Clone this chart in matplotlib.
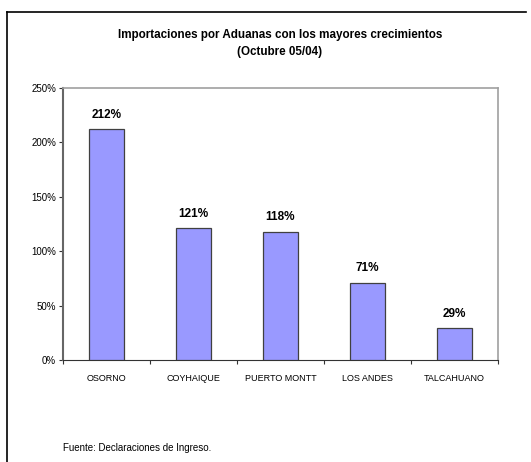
import matplotlib
matplotlib.use('Agg')
from matplotlib import pyplot as plt
from matplotlib.lines import Line2D
from matplotlib.ticker import FuncFormatter
import numpy as np

plt.rcParams['font.family'] = ['Liberation Sans', 'DejaVu Sans']

aduanas = ['OSORNO', 'COYHAIQUE', 'PUERTO MONTT', 'LOS ANDES', 'TALCAHUANO']
crecimiento = [212, 121, 118, 71, 29]
y_ticks = [0, 50, 100, 150, 200, 250]

W, H = 531, 462
fig = plt.figure(figsize=(W / 100, H / 100), dpi=100)

# plot area in pixels: left 63, right 498, top 88, bottom 360
ax = fig.add_axes([63 / W, 1 - 360 / H, (498 - 63) / W, (360 - 88) / H])

x = np.arange(len(aduanas))
ax.bar(x, crecimiento, width=0.4, color='#9999ff', edgecolor='#404040', linewidth=0.9, zorder=3)

for xi, v in zip(x, crecimiento):
    ax.annotate(f'{v}%', (xi, v), xytext=(0, 6), textcoords='offset points',
                ha='center', va='bottom', fontsize=8.5, fontweight='bold')

ax.set_xlim(-0.5, len(aduanas) - 0.5)
ax.set_ylim(0, 250)
ax.set_yticks(y_ticks)
ax.yaxis.set_major_formatter(FuncFormatter(lambda v, p: f'{v:.0f}%'))
ax.tick_params(axis='y', labelsize=7, length=3, width=0.8, color='#333333', pad=2)

# category labels centred, ticks at category boundaries
ax.set_xticks(x)
ax.set_xticklabels(aduanas, fontsize=6.5)
ax.tick_params(axis='x', which='major', length=0, pad=10)
ax.set_xticks(np.arange(-0.5, len(aduanas)), minor=True)
ax.tick_params(axis='x', which='minor', length=3, width=0.8, color='#333333')

ax.spines['left'].set_color('#666666')
ax.spines['left'].set_linewidth(1.5)
ax.spines['bottom'].set_color('#333333')
ax.spines['bottom'].set_linewidth(0.8)
ax.spines['top'].set_color('#a0a0a0')
ax.spines['top'].set_linewidth(1.2)
ax.spines['right'].set_color('#a0a0a0')
ax.spines['right'].set_linewidth(1.2)

fig.text(280 / W, 1 - 35 / H, 'Importaciones por Aduanas con los mayores crecimientos',
         ha='center', va='center', fontsize=8.4, fontweight='bold')
fig.text(280 / W, 1 - 52 / H, '(Octubre 05/04)',
         ha='center', va='center', fontsize=8.4, fontweight='bold')
fig.text(63 / W, 1 - 448 / H, 'Fuente: Declaraciones de Ingreso.',
         ha='left', va='center', fontsize=7)

# outer frame: left and top edges
fig.add_artist(Line2D([6.5 / W, 6.5 / W], [0, 1 - 12 / H], color='black', linewidth=1.2,
                      transform=fig.transFigure))
fig.add_artist(Line2D([6.5 / W, 526 / W], [1 - 12 / H, 1 - 12 / H], color='black', linewidth=1.2,
                      transform=fig.transFigure))

fig.savefig('out.png', dpi=100)
